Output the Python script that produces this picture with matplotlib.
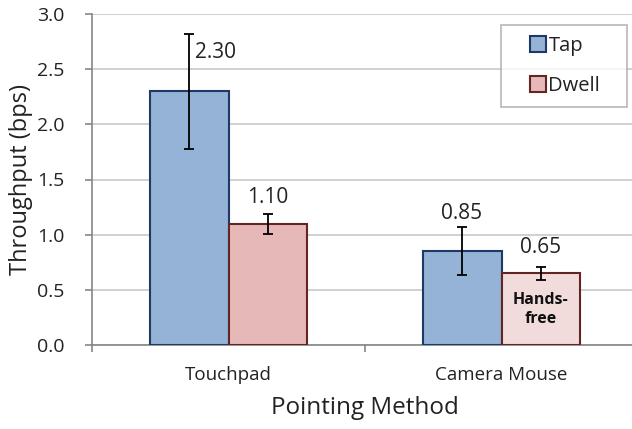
import numpy as np
import matplotlib.pyplot as plt
from matplotlib.lines import Line2D

categories = ["Touchpad", "Camera Mouse"]
tap = [2.30, 0.85]
dwell = [1.10, 0.65]
tap_err = [0.52, 0.22]
dwell_err = [0.09, 0.06]
tap_labels = ["2.30", "0.85"]
dwell_labels = ["1.10", "0.65"]
# label positions (offset from category, data y)
tap_label_pos = [(-0.048, 2.65), (-0.148, 1.19)]
dwell_label_pos = [(0.144, 1.34), (0.144, 0.88)]

plt.rcParams['font.family'] = ['Open Sans', 'DejaVu Sans']

fig = plt.figure(figsize=(6.32, 4.29), dpi=100)
ax = fig.add_axes([92 / 632, 1 - 345 / 429, 546 / 632, 331 / 429])

x = np.arange(len(categories))
w = 0.288
tap_color = "#95B3D7"
tap_edge = "#1F3864"
dwell_colors = ["#E6B9B8", "#F2DCDB"]
dwell_edge = "#632523"
ekw = dict(elinewidth=1.3, capthick=1.3, ecolor="black")

ax.bar(x - w / 2, tap, w, color=tap_color, edgecolor=tap_edge, linewidth=1.5,
       yerr=tap_err, capsize=3.7, error_kw=ekw, zorder=3)
ax.bar(x + w / 2, dwell, w, color=dwell_colors, edgecolor=dwell_edge, linewidth=1.5,
       yerr=dwell_err, capsize=3.7, error_kw=ekw, zorder=3)

for i in range(len(categories)):
    ax.text(x[i] + tap_label_pos[i][0], tap_label_pos[i][1], tap_labels[i],
            ha="center", va="center", fontsize=15, color="#222222", zorder=4)
    ax.text(x[i] + dwell_label_pos[i][0], dwell_label_pos[i][1], dwell_labels[i],
            ha="center", va="center", fontsize=15, color="#222222", zorder=4)

ax.text(x[1] + w / 2, 0.32, "Hands-\nfree", ha="center", va="center",
        fontsize=11.5, fontweight="bold", color="#111111", linespacing=1.3, zorder=4)

ax.set_xlim(-0.5, 1.5)
ax.set_ylim(0, 3.0)
yt = np.arange(0, 3.01, 0.5)
ax.set_yticks(yt)
ax.set_yticklabels([f"{v:.1f}" for v in yt])
ax.yaxis.grid(True, color="#C8C8C8", linewidth=1.2, zorder=0)
ax.set_axisbelow(True)

ax.set_xticks(x)
ax.set_xticklabels(categories, fontsize=13.5, color="#222222")
ax.tick_params(axis="x", length=0, pad=15)
ax.set_xticks([-0.5, 0.5, 1.5], minor=True)
ax.tick_params(axis="x", which="minor", length=5, color="#868686", width=1.2)
ax.tick_params(axis="y", length=5, color="#868686", width=1.2, labelsize=14,
               labelcolor="#222222", pad=15)

for s in ["top", "right"]:
    ax.spines[s].set_visible(False)
for s in ["left", "bottom"]:
    ax.spines[s].set_color("#868686")
    ax.spines[s].set_linewidth(1.2)

ax.set_ylabel("Throughput (bps)", fontsize=17, labelpad=3, color="#222222")
ax.set_xlabel("Pointing Method", fontsize=17.5, labelpad=9, color="#222222")

handles = [Line2D([], [], linestyle="none", marker="s", markersize=12,
                  markerfacecolor=tap_color, markeredgecolor=tap_edge, markeredgewidth=1.5),
           Line2D([], [], linestyle="none", marker="s", markersize=12,
                  markerfacecolor=dwell_colors[0], markeredgecolor=dwell_edge, markeredgewidth=1.5)]
leg = ax.legend(handles, ["Tap", "Dwell   "], loc="upper right",
                bbox_to_anchor=(535 / 546, (345 - 25) / 331), fontsize=14.5,
                frameon=True, fancybox=False, edgecolor="#A6A6A6",
                handlelength=2.6, handletextpad=-0.8,
                labelspacing=1.0, borderpad=0.55, borderaxespad=0)
leg.get_frame().set_linewidth(1.2)
for t in leg.get_texts():
    t.set_color("#222222")

fig.savefig("out.png", dpi=100)
